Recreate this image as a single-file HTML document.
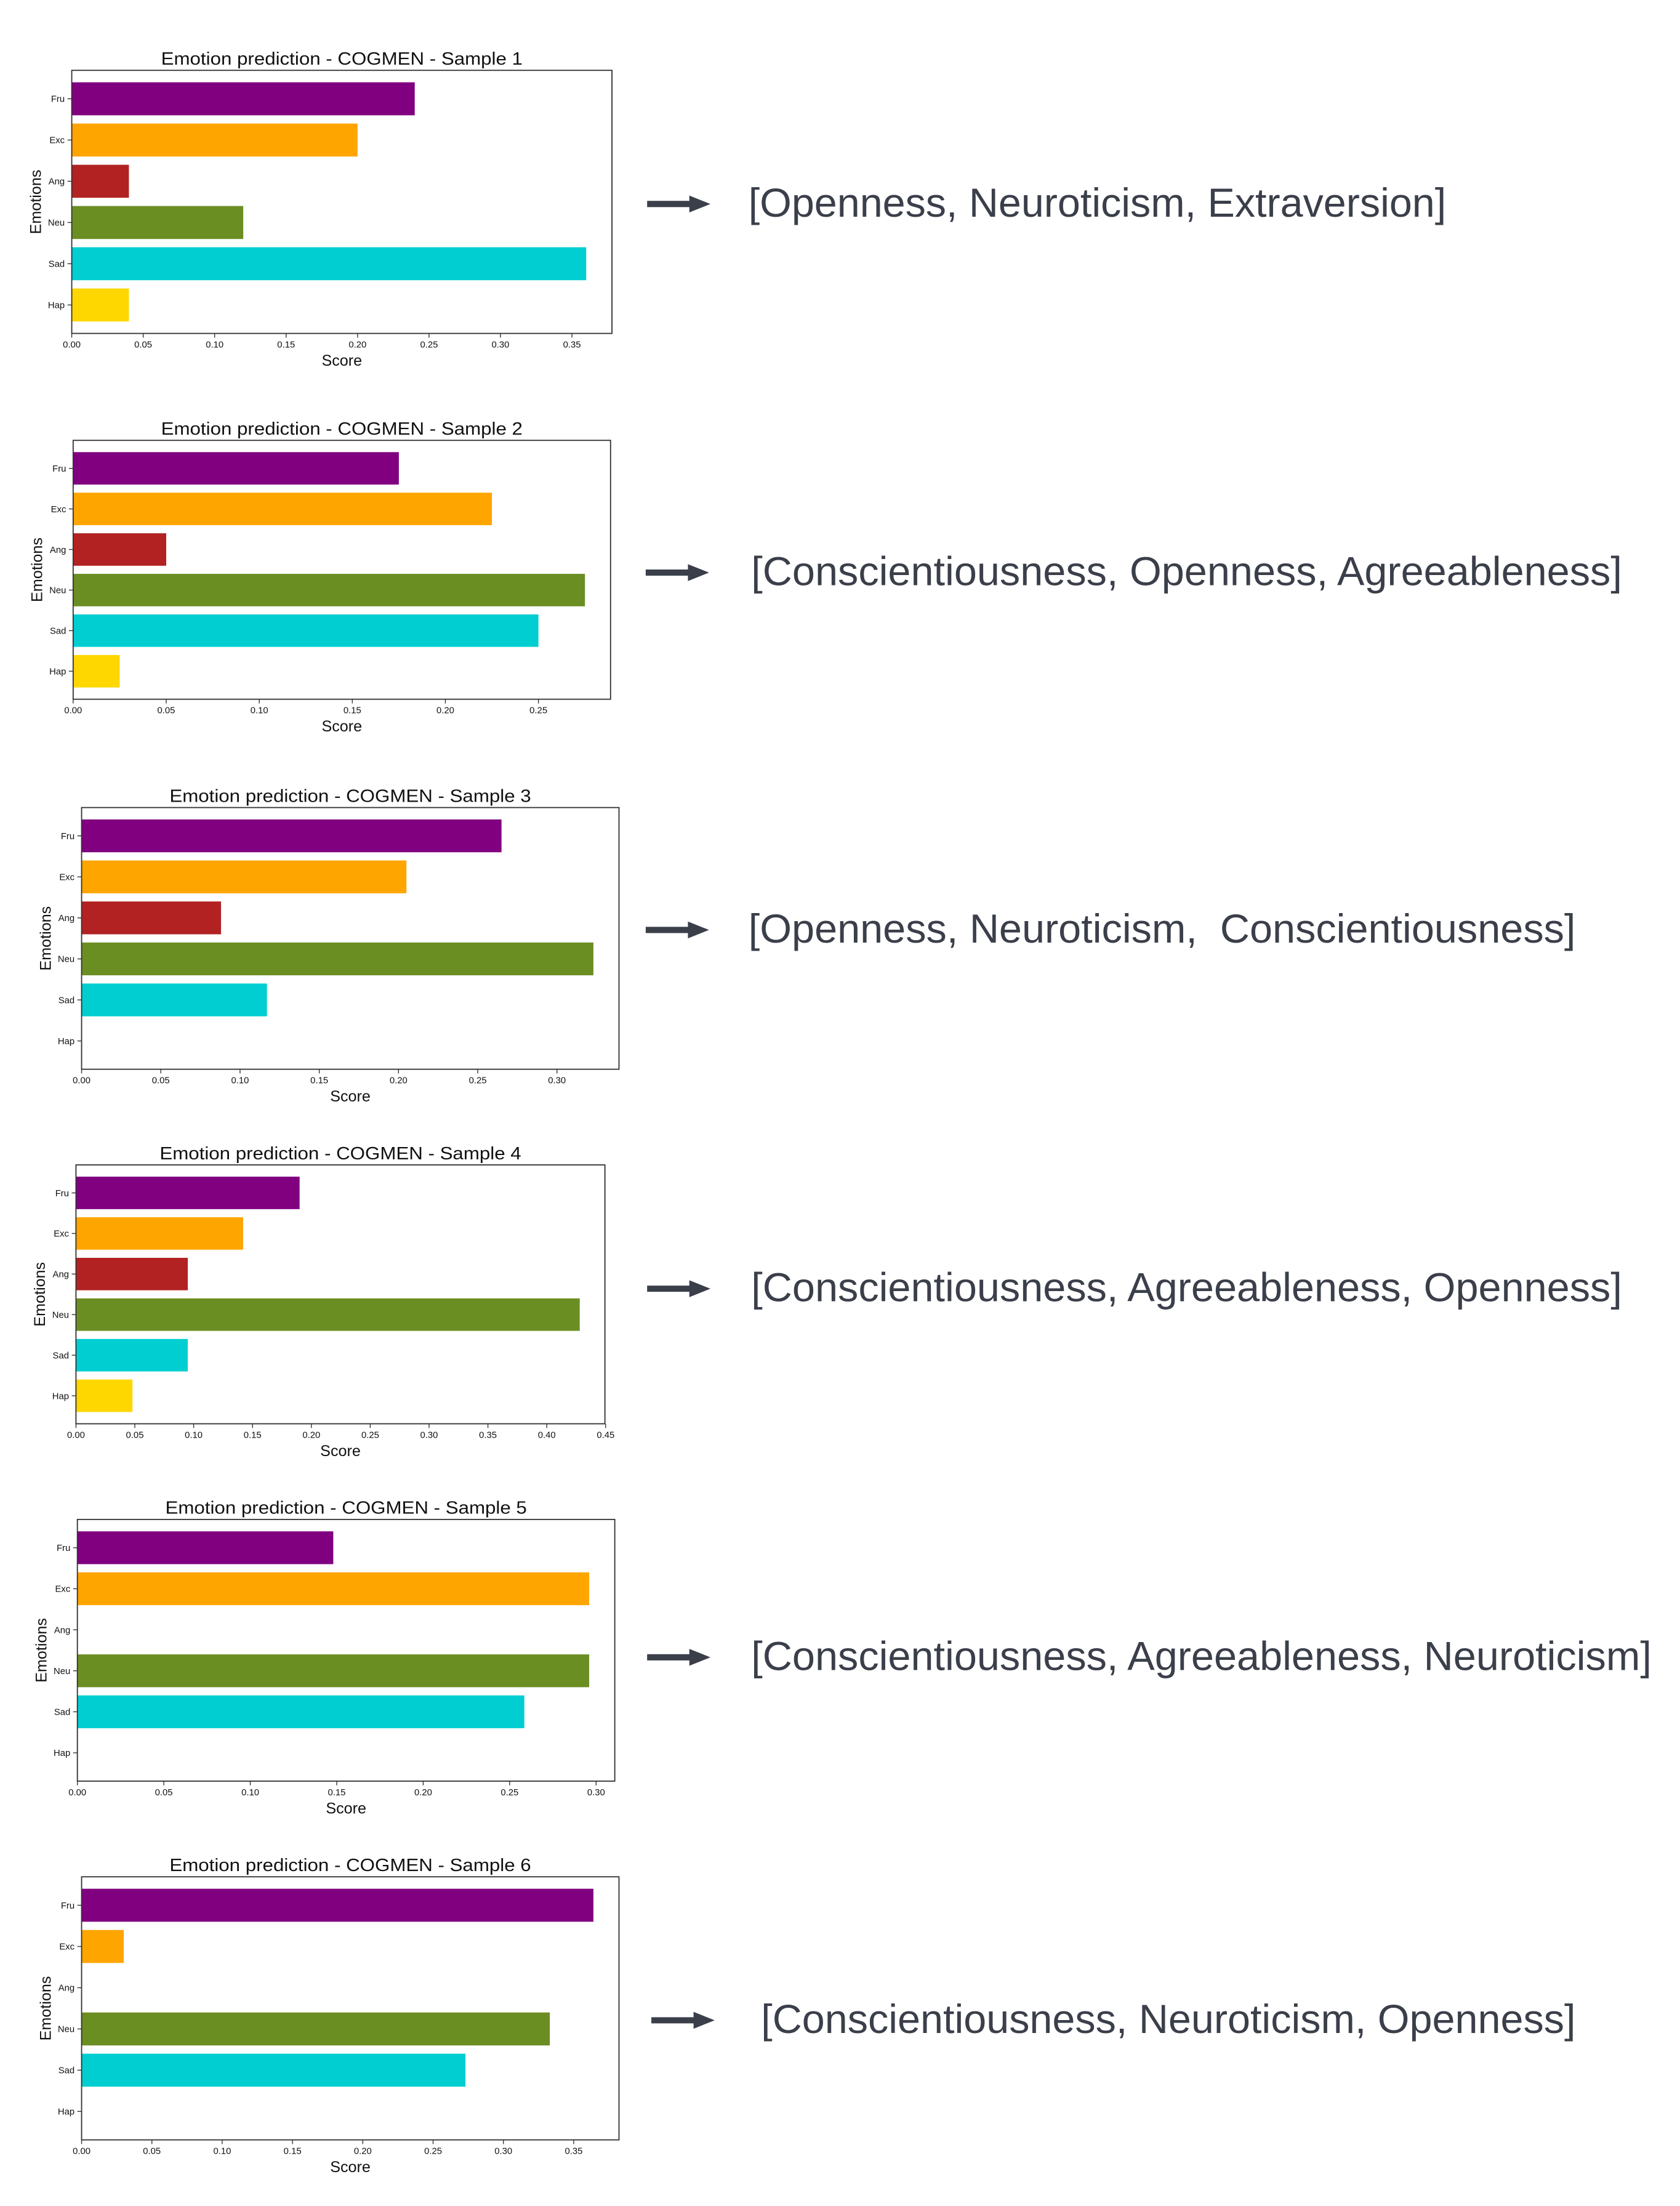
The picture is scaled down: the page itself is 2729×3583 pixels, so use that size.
<!DOCTYPE html>
<html><head><meta charset="utf-8"><style>
html,body{margin:0;padding:0;background:#fff;}
svg{display:block;}
text{font-family:"Liberation Sans","DejaVu Sans",sans-serif;}
</style></head>
<body>
<svg id="fig" width="2729" height="3583" viewBox="0 0 1194.2 1568" preserveAspectRatio="none" xmlns="http://www.w3.org/2000/svg">
<rect width="1194.2" height="1568" fill="#fff"/>
</svg>
<script>
const categories = ["Fru","Exc","Ang","Neu","Sad","Hap"];
const colors = ["#800080","#ffa500","#b22222","#6b8e23","#00ced1","#ffd700"];
const sample1 = [0.24,0.20,0.04,0.12,0.36,0.04];
const sample2 = [0.175,0.225,0.05,0.275,0.25,0.025];
const sample3 = [0.265,0.205,0.088,0.323,0.117,0];
const sample4 = [0.190,0.142,0.095,0.428,0.095,0.048];
const sample5 = [0.148,0.296,0,0.296,0.2585,0];
const sample6 = [0.364,0.03,0,0.333,0.273,0];
const ticks1 = ["0.00","0.05","0.10","0.15","0.20","0.25","0.30","0.35"];
const ticks2 = ["0.00","0.05","0.10","0.15","0.20","0.25"];
const ticks3 = ["0.00","0.05","0.10","0.15","0.20","0.25","0.30"];
const ticks4 = ["0.00","0.05","0.10","0.15","0.20","0.25","0.30","0.35","0.40","0.45"];
const ticks5 = ["0.00","0.05","0.10","0.15","0.20","0.25","0.30"];
const ticks6 = ["0.00","0.05","0.10","0.15","0.20","0.25","0.30","0.35"];
const traits1 = "[Openness, Neuroticism, Extraversion]";
const traits2 = "[Conscientiousness, Openness, Agreeableness]";
const traits3 = "[Openness, Neuroticism,\u00a0 Conscientiousness]";
const traits4 = "[Conscientiousness, Agreeableness, Openness]";
const traits5 = "[Conscientiousness, Agreeableness, Neuroticism]";
const traits6 = "[Conscientiousness, Neuroticism, Openness]";

const NS="http://www.w3.org/2000/svg";
const svg=document.getElementById('fig');
function mk(tag,attrs,parent){const e=document.createElementNS(NS,tag);for(const k in attrs)e.setAttribute(k,attrs[k]);(parent||svg).appendChild(e);return e;}

const layouts=[
 {l:51,r:435,t:50,b:237, ax:460,tx:532,tw:496,ty:144},
 {l:52,r:434,t:313,b:497, ax:459,tx:534,tw:619,ty:406},
 {l:58,r:440,t:574,b:760, ax:459,tx:532,tw:588,ty:660},
 {l:54,r:430,t:828,b:1012, ax:460,tx:534,tw:619,ty:915},
 {l:55,r:437,t:1080,b:1266, ax:460,tx:534,tw:640,ty:1177},
 {l:58,r:440,t:1334,b:1521, ax:463,tx:541,tw:579,ty:1435}
];
const samples=[sample1,sample2,sample3,sample4,sample5,sample6];
const tickSets=[ticks1,ticks2,ticks3,ticks4,ticks5,ticks6];
const traits=[traits1,traits2,traits3,traits4,traits5,traits6];

samples.forEach((vals,si)=>{
  const L=layouts[si];
  const g=mk('g',{});
  
  
  const xmax=Math.max(...vals)*1.05;
  const xs=v=>L.l+(v/xmax)*(L.r-L.l);
  const y0=-0.69,y1=5.69;
  const ys=i=>L.t+((i-y0)/(y1-y0))*(L.b-L.t);
  vals.forEach((v,i)=>{
    if(v<=0)return;
    const b=mk('rect',{x:xs(0),y:ys(i-0.4),width:xs(v)-xs(0),height:ys(i+0.4)-ys(i-0.4),fill:colors[i]},g);
    
    
  });
  const fr=mk('rect',{x:L.l,y:L.t,width:L.r-L.l,height:L.b-L.t,fill:'none',stroke:'#333',"stroke-width":0.8},g);
  
  
  categories.forEach((c,i)=>{
    const y=ys(i);
    mk('line',{x1:L.l-3,x2:L.l,y1:y,y2:y,stroke:'#333',"stroke-width":0.6},g);
    const t=mk('text',{x:L.l-5,y:y+2.3,"font-size":6.5,"text-anchor":'end',fill:'#111'},g);
    t.textContent=c;
    
    
  });
  tickSets[si].forEach(s=>{
    const x=xs(parseFloat(s));
    mk('line',{x1:x,x2:x,y1:L.b,y2:L.b+3,stroke:'#333',"stroke-width":0.6},g);
    const t=mk('text',{x:x,y:L.b+10,"font-size":6.5,"text-anchor":'middle',fill:'#111'},g);
    t.textContent=s;
    
    
  });
  const cx=(L.l+L.r)/2;
  const title=mk('text',{x:cx,y:L.t-4,"font-size":12.5,"text-anchor":'middle',fill:'#111',textLength:257,lengthAdjust:'spacingAndGlyphs'},g);
  title.textContent='Emotion prediction - COGMEN - Sample '+(si+1);
  
  
  const xl=mk('text',{x:cx,y:L.b+23,"font-size":11,"text-anchor":'middle',fill:'#111'},g);
  xl.textContent='Score';
  
  
  const ym=(L.t+L.b)/2;
  const yl=mk('text',{x:L.l-22,y:ym,"font-size":11,"text-anchor":'middle',fill:'#111',transform:`rotate(-90 ${L.l-22} ${ym})`},g);
  yl.textContent='Emotions';
  
  
  const ay=L.ty+1;
  const ar=mk('path',{d:`M${L.ax} ${ay-2.2} H${L.ax+30} V${ay-6} L${L.ax+45} ${ay} L${L.ax+30} ${ay+6} V${ay+2.2} H${L.ax} Z`,fill:'#3a3f4a'});
  
  
  const tt=mk('text',{x:L.tx,y:L.ty+10,"font-size":29,fill:'#3a3f4a',textLength:L.tw,lengthAdjust:'spacingAndGlyphs'});
  tt.textContent=traits[si];
  
  
});
</script>
</body></html>
